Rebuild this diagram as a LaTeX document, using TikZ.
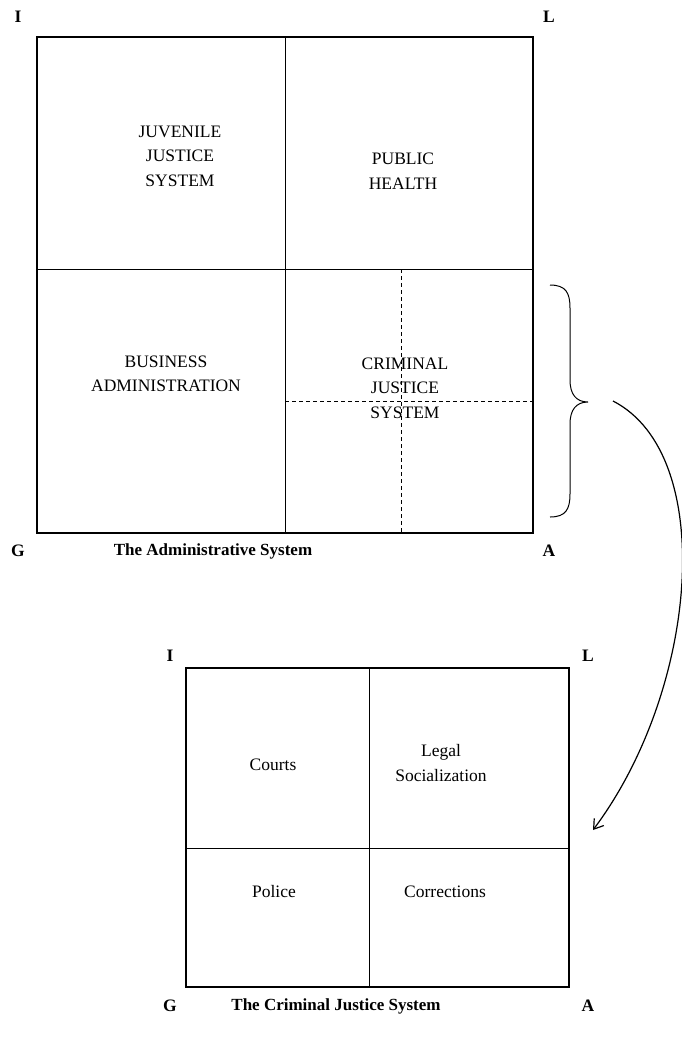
\documentclass[tikz,border=0pt]{standalone}
\usepackage{fontspec}
\setmainfont{Liberation Serif}
\usetikzlibrary{arrows.meta}
\begin{document}
\begin{tikzpicture}[x=1pt,y=-1pt,
  frame/.style={line width=1.1pt},
  divline/.style={line width=0.9pt},
  dashline/.style={line width=0.9pt,dash pattern=on 4pt off 3pt},
  cell/.style={align=center,inner sep=0pt,font=\fontsize{17.5}{24.5}\selectfont},
  corner/.style={inner sep=0pt,font=\fontsize{17.5}{21}\selectfont\bfseries},
  caption/.style={inner sep=0pt,font=\fontsize{17}{21}\selectfont\bfseries},
  link/.style={line width=1.2pt,-{Straight Barb[length=9pt,width=12pt,line width=1.2pt]}}]
\useasboundingbox (0,0) rectangle (681,1045);
% top box
\coordinate (t1) at (37,37);
\coordinate (t2) at (533,533);
\draw[frame] (t1) rectangle (t2);
\draw[divline] (285,37) -- (285,533);
\draw[divline] (37,269) -- (533,269);
\draw[dashline] (401,269) -- (401,533);
\draw[dashline] (285,401) -- (533,401);
\node[cell] (juv) at (180,156) {JUVENILE\\JUSTICE\\SYSTEM};
\node[cell] (pub) at (403,171) {PUBLIC\\HEALTH};
\node[cell] (bus) at (166,374) {BUSINESS\\ADMINISTRATION};
\node[cell] (crim) at (405,388) {CRIMINAL\\JUSTICE\\SYSTEM};
\node[corner] (ti) at (18,17) {I};
\node[corner] (tl) at (549,17) {L};
\node[corner] (tg) at (18,551) {G};
\node[corner] (ta) at (549,551) {A};
\node[caption] (tcap) at (213,551) {The Administrative System};
% brace
\draw[line width=1pt] (550,285) .. controls (566,285) and (570,293) .. (570,308)
  -- (570,380) .. controls (570,394) and (576,402) .. (588,402)
  .. controls (576,402) and (570,410) .. (570,424)
  -- (570,494) .. controls (570,509) and (566,517) .. (550,517);
\coordinate (bs) at (613,401);
\coordinate (be) at (593,830);
\draw[link] (bs) .. controls (718,455) and (698,690) .. (be);
% bottom box
\draw[frame] (186,668) rectangle (569,987);
\draw[divline] (369,668) -- (369,987);
\draw[divline] (186,848) -- (569,848);
\node[cell] (courts) at (273,765) {Courts};
\node[cell] (legal) at (441,763) {Legal\\Socialization};
\node[cell] (police) at (274,892) {Police};
\node[cell] (corr) at (445,892) {Corrections};
\node[corner] (bi) at (170,656) {I};
\node[corner] (bl) at (588,656) {L};
\node[corner] (bg) at (170,1006) {G};
\node[corner] (ba) at (588,1006) {A};
\node[caption] (bcap) at (336,1006) {The Criminal Justice System};
\end{tikzpicture}
\end{document}
